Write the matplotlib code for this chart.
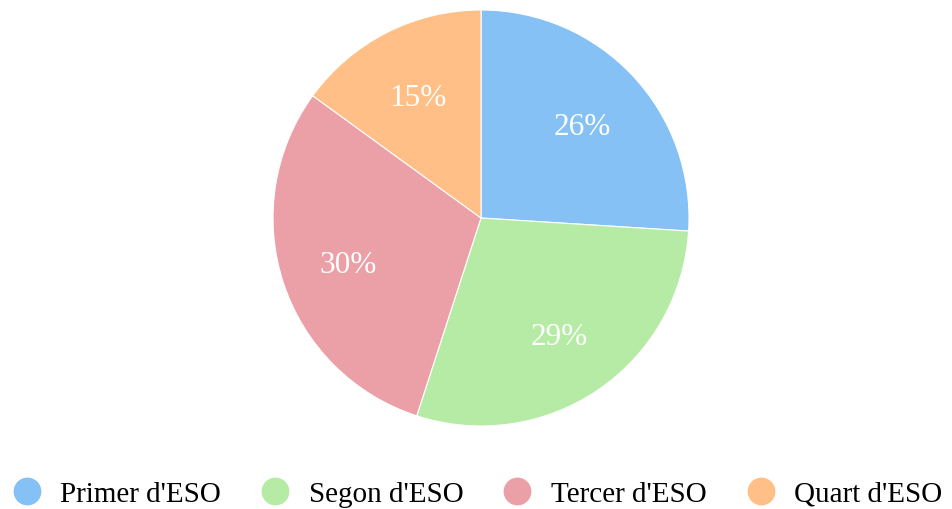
import matplotlib.pyplot as plt
from matplotlib.lines import Line2D

# data
labels = ["Primer d'ESO", "Segon d'ESO", "Tercer d'ESO", "Quart d'ESO"]
values = [26, 29, 30, 15]
colors = ["#85c1f5", "#b5eba5", "#eba0a8", "#ffbf86"]

plt.rcParams['font.family'] = ['Liberation Serif', 'DejaVu Serif']

W, H = 953, 510
fig = plt.figure(figsize=(W / 100, H / 100), dpi=100)

# pie centre and radius in pixels
cx, cy, r = 481, 219, 208
ax = fig.add_axes([(cx - r) / W, (H - cy - r) / H, 2 * r / W, 2 * r / H])
wedges, texts, autotexts = ax.pie(values, colors=colors, startangle=90, counterclock=False,
                                  autopct='%d%%', pctdistance=0.67,
                                  wedgeprops=dict(edgecolor='white', linewidth=0.8),
                                  textprops=dict(color='white', fontsize=22.5))
for t in autotexts:
    t.set_va('center_baseline')
ax.set_xlim(-1, 1)
ax.set_ylim(-1, 1)
ax.set_aspect('equal')
ax.axis('off')

handles = [Line2D([], [], marker='o', linestyle='none', markersize=19,
                  markerfacecolor=c, markeredgecolor=c) for c in colors]
fig.legend(handles, labels, loc='lower center', bbox_to_anchor=(0.5, -0.047), ncol=4,
           frameon=False, fontsize=21, handletextpad=0.6, columnspacing=1.3,
           handlelength=1.1)

fig.savefig("out.png", dpi=100)
